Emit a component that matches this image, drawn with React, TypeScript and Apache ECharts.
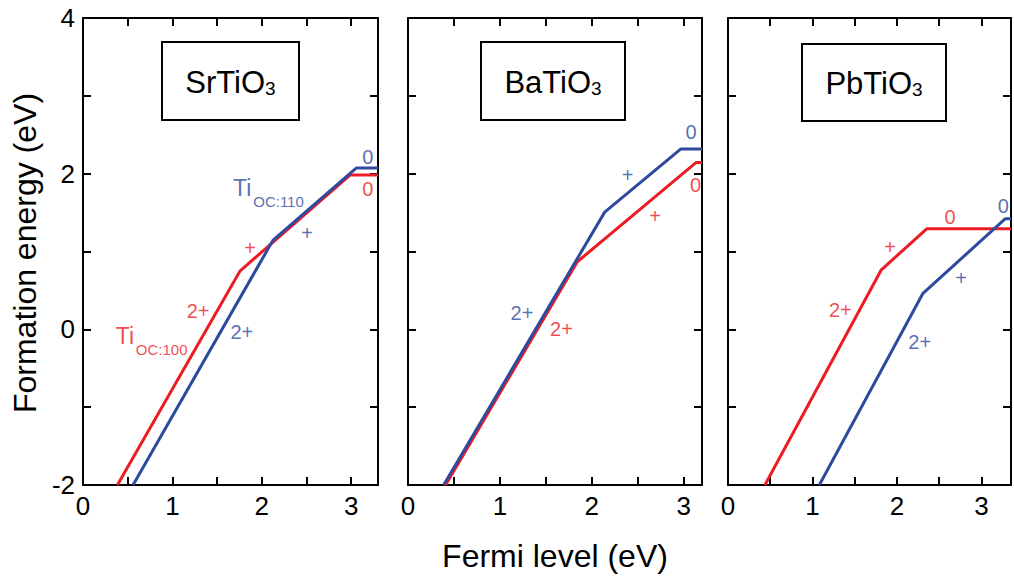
import React, { useEffect, useRef } from 'react';
import * as echarts from 'echarts';

const RED = '#ED1C24';
const BLUE = '#2E4A9E';
const FONT = "'Liberation Sans', Arial, Helvetica, sans-serif";

// Panel titles and x ranges (Fermi level, eV)
const panelNames = ['SrTiO', 'BaTiO', 'PbTiO'];
const panelXMax = [3.3, 3.2, 3.35];
const yMin = -2;
const yMax = 4;

// SrTiO3
const srRedX = [0.385, 1.758, 2.99, 3.3];
const srRedY = [-2, 0.752, 1.983, 1.983];
const srBlueX = [0.56, 2.124, 3.056, 3.3];
const srBlueY = [-2, 1.143, 2.072, 2.072];

// BaTiO3
const baRedX = [0.409, 1.843, 3.134, 3.2];
const baRedY = [-2, 0.868, 2.143, 2.143];
const baBlueX = [0.388, 2.141, 2.971, 3.2];
const baBlueY = [-2, 1.506, 2.318, 2.318];

// PbTiO3
const pbRedX = [0.437, 1.815, 2.355, 3.35];
const pbRedY = [-2, 0.765, 1.293, 1.293];
const pbBlueX = [1.081, 2.305, 3.28, 3.35];
const pbBlueY = [-2, 0.458, 1.42, 1.42];

// Labels: [text, x, y, colour key, font size]
type Lab = [string, number, number, 'r' | 'b', number];
const srLabels: Lab[] = [
  ['0', 3.187, 2.22, 'b', 20],
  ['0', 3.187, 1.8, 'r', 20],
  ['+', 1.869, 1.048, 'r', 20],
  ['+', 2.507, 1.24, 'b', 20],
  ['2+', 1.287, 0.24, 'r', 20],
  ['2+', 1.777, -0.03, 'b', 20],
  ['Ti', 1.78, 1.82, 'b', 23],
  ['OC:110', 2.187, 1.643, 'b', 15],
  ['Ti', 0.47, -0.084, 'r', 23],
  ['OC:100', 0.88, -0.263, 'r', 15],
];
const baLabels: Lab[] = [
  ['0', 3.08, 2.53, 'b', 20],
  ['0', 3.13, 1.85, 'r', 20],
  ['+', 2.39, 1.98, 'b', 20],
  ['+', 2.69, 1.46, 'r', 20],
  ['2+', 1.24, 0.21, 'b', 20],
  ['2+', 1.67, 0.0, 'r', 20],
];
const pbLabels: Lab[] = [
  ['0', 2.63, 1.44, 'r', 20],
  ['+', 1.92, 1.06, 'r', 20],
  ['2+', 1.33, 0.25, 'r', 20],
  ['+', 2.76, 0.66, 'b', 20],
  ['2+', 2.27, -0.16, 'b', 20],
  ['0', 3.26, 1.58, 'b', 20],
];

const panels = [
  { redX: srRedX, redY: srRedY, blueX: srBlueX, blueY: srBlueY, labels: srLabels },
  { redX: baRedX, redY: baRedY, blueX: baBlueX, blueY: baBlueY, labels: baLabels },
  { redX: pbRedX, redY: pbRedY, blueX: pbBlueX, blueY: pbBlueY, labels: pbLabels },
];

const gridBoxes = [
  { left: 83, top: 18, width: 295, height: 467 },
  { left: 408, top: 18, width: 294, height: 467 },
  { left: 728, top: 18, width: 289, height: 467 },
];

const titleBoxes = [
  { x: 162, y: 42, w: 137, h: 78 },
  { x: 481, y: 42, w: 144, h: 78 },
  { x: 802, y: 44, w: 144, h: 77 },
];

export default function App() {
  const ref = useRef<HTMLDivElement>(null);
  useEffect(() => {
    if (!ref.current) return;
    const chart = echarts.init(ref.current, undefined, { renderer: 'svg' });

    const xAxes: any[] = [];
    const yAxes: any[] = [];
    const series: any[] = [];
    const lineAxis = { show: true, onZero: false, lineStyle: { color: '#000', width: 2 } };
    const tick = { show: true, inside: true, length: 8, lineStyle: { color: '#000', width: 2 } };

    gridBoxes.forEach((g, i) => {
      xAxes.push({
        type: 'value', gridIndex: i, min: 0, max: panelXMax[i], interval: 0.5, position: 'bottom',
        axisLine: lineAxis, axisTick: tick, splitLine: { show: false },
        axisLabel: {
          fontSize: 26, color: '#000', margin: 8, fontFamily: FONT,
          formatter: (v: number) => (Math.abs(v - Math.round(v)) < 1e-9 ? String(Math.round(v)) : ''),
        },
      });
      xAxes.push({
        type: 'value', gridIndex: i, min: 0, max: panelXMax[i], interval: 0.5, position: 'top',
        axisLine: lineAxis, axisTick: tick, splitLine: { show: false }, axisLabel: { show: false },
      });
      yAxes.push({
        type: 'value', gridIndex: i, min: yMin, max: yMax, interval: 1, position: 'left',
        axisLine: lineAxis, axisTick: tick, splitLine: { show: false },
        axisLabel: {
          show: i === 0, fontSize: 26, color: '#000', margin: 8, fontFamily: FONT,
          formatter: (v: number) => (Math.round(v) % 2 === 0 ? String(Math.round(v)) : ''),
        },
      });
      yAxes.push({
        type: 'value', gridIndex: i, min: yMin, max: yMax, interval: 1, position: 'right',
        axisLine: lineAxis, axisTick: tick, splitLine: { show: false }, axisLabel: { show: false },
      });

      const p = panels[i];
      series.push({
        type: 'line', xAxisIndex: 2 * i, yAxisIndex: 2 * i, symbol: 'none',
        data: p.redX.map((x, k) => [x, p.redY[k]]),
        lineStyle: { color: RED, width: 3 }, itemStyle: { color: RED }, z: 3,
      });
      series.push({
        type: 'line', xAxisIndex: 2 * i, yAxisIndex: 2 * i, symbol: 'none',
        data: p.blueX.map((x, k) => [x, p.blueY[k]]),
        lineStyle: { color: BLUE, width: 3 }, itemStyle: { color: BLUE }, z: 4,
      });
      series.push({
        type: 'scatter', xAxisIndex: 2 * i, yAxisIndex: 2 * i, symbolSize: 0, z: 5,
        data: p.labels.map(([t, x, y, c, fs]) => {
          const color = c === 'r' ? RED : BLUE;
          return {
            value: [x, y],
            label: {
              show: true, position: 'inside', color, fontFamily: FONT,
              fontSize: fs, formatter: t,
            },
          };
        }),
      });
    });

    const graphic: any[] = [];
    titleBoxes.forEach((b, i) => {
      graphic.push({
        type: 'rect', z: 10,
        shape: { x: b.x, y: b.y, width: b.w, height: b.h },
        style: { fill: '#fff', stroke: '#000', lineWidth: 2 },
      });
      graphic.push({
        type: 'text', z: 11, x: b.x + b.w / 2, y: b.y + b.h / 2 + 1,
        style: {
          text: `{a|${panelNames[i]}}{b|3}`,
          align: 'center', verticalAlign: 'middle', fill: '#000',
          rich: {
            a: { fontSize: 31, lineHeight: 31, verticalAlign: 'bottom', fontFamily: FONT, fill: '#000' },
            b: { fontSize: 19, lineHeight: 19, verticalAlign: 'bottom', fontFamily: FONT, fill: '#000' },
          },
        },
      });
    });
    graphic.push({
      type: 'text', x: 555, y: 556,
      style: { text: 'Fermi level (eV)', fontSize: 32, fontFamily: FONT, fill: '#000', align: 'center', verticalAlign: 'middle' },
    });
    graphic.push({
      type: 'text', x: 25, y: 253, rotation: Math.PI / 2,
      style: { text: 'Formation energy (eV)', fontSize: 32, fontFamily: FONT, fill: '#000', align: 'center', verticalAlign: 'middle' },
    });

    chart.setOption({
      animation: false,
      backgroundColor: '#fff',
      textStyle: { fontFamily: FONT },
      grid: gridBoxes.map((g) => ({ ...g, containLabel: false })),
      xAxis: xAxes,
      yAxis: yAxes,
      series,
      graphic,
    });
    return () => chart.dispose();
  }, []);

  return (
    <div
      ref={ref}
      style={{ position: 'fixed', left: 0, top: 0, width: 1014, height: 576, background: '#fff' }}
    />
  );
}
